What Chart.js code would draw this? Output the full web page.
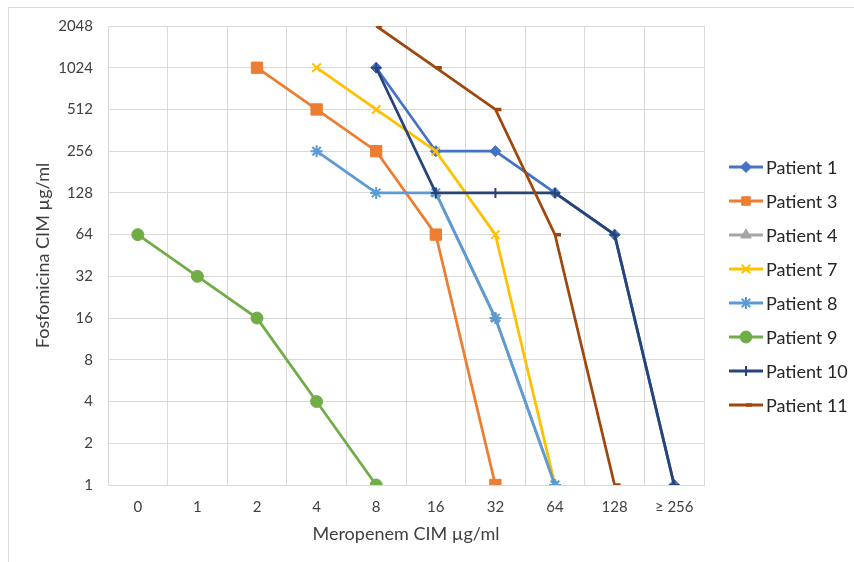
<!DOCTYPE html>
<html>
<head>
<meta charset="utf-8">
<script src="https://cdn.jsdelivr.net/npm/chart.js@4.4.0/dist/chart.umd.min.js"></script>
<style>
  html, body { margin: 0; padding: 0; background: #fff; }
  #wrap { position: relative; width: 854px; height: 562px; overflow: hidden; }
  #frame { position: absolute; left: 8px; top: 7px; width: 900px; height: 600px; border: 1px solid #D9D9D9; box-sizing: border-box; }
  canvas { position: absolute; left: 0; top: 0; }
</style>
</head>
<body>
<div id="wrap">
  <div id="frame"></div>
  <canvas id="c" width="854" height="562"></canvas>
</div>
<script>
// X categories (Meropenem CIM µg/ml)
const categories = ['0', '1', '2', '4', '8', '16', '32', '64', '128', '≥ 256'];
// Y tick labels (Fosfomicina CIM µg/ml)
const yTickValues = [1, 2, 4, 8, 16, 32, 64, 128, 256, 512, 1024, 2048];

// Series values (null = no point)
const patient1  = [null, null, null, null, 1024, 256, 256, 128, 64, 1];
const patient3  = [null, null, 1024, 512, 256, 64, 1, null, null, null];
const patient4  = [null, null, null, null, null, 128, 16, 1, null, null];
const patient7  = [null, null, null, 1024, 512, 256, 64, 1, null, null];
const patient8  = [null, null, null, 256, 128, 128, 16, 1, null, null];
const patient9  = [64, 32, 16, 4, 1, null, null, null, null, null];
const patient10 = [null, null, null, null, 1024, 128, 128, 128, 64, 1];
const patient11 = [null, null, null, null, 2048, 1024, 512, 64, 1, null];

const seriesNames = ['Patient 1', 'Patient 3', 'Patient 4', 'Patient 7', 'Patient 8', 'Patient 9', 'Patient 10', 'Patient 11'];
const seriesData = [patient1, patient3, patient4, patient7, patient8, patient9, patient10, patient11];
const seriesColors = ['#4472C4', '#ED7D31', '#A5A5A5', '#FFC000', '#5B9BD5', '#70AD47', '#264478', '#9E480E'];
const seriesStyles = ['rectRot', 'rect', 'triangle', 'crossRot', 'star', 'circle', 'cross', 'dash'];
const seriesRadius = [5.5, 8, 6, 6, 6, 6, 5, 6];
const seriesPtBorder = [1, 1, 1, 2, 2, 1, 2, 3.5];

const FONT = 'Lato, "Open Sans", sans-serif';
const TXT = '#404040';

const datasets = seriesNames.map((name, i) => ({
  label: name,
  data: seriesData[i],
  borderColor: seriesColors[i],
  backgroundColor: seriesColors[i],
  pointBackgroundColor: seriesColors[i],
  pointBorderColor: seriesColors[i],
  pointStyle: seriesStyles[i],
  pointRadius: seriesRadius[i],
  pointHoverRadius: seriesRadius[i],
  pointBorderWidth: seriesPtBorder[i],
  borderWidth: 2.75,
  tension: 0,
  spanGaps: false,
  order: seriesNames.length - i
}));

const excelLegend = {
  id: 'excelLegend',
  afterDraw(chart) {
    const ctx = chart.ctx;
    const x0 = chart.chartArea.right + 25;
    const lineLen = 34;
    const y0 = 167;
    const step = 34;
    chart.data.datasets.forEach((ds, i) => {
      const y = y0 + i * step;
      ctx.save();
      ctx.strokeStyle = ds.borderColor;
      ctx.lineWidth = 3;
      ctx.beginPath();
      ctx.moveTo(x0, y);
      ctx.lineTo(x0 + lineLen, y);
      ctx.stroke();
      ctx.fillStyle = ds.pointBackgroundColor;
      ctx.strokeStyle = ds.pointBorderColor;
      ctx.lineWidth = ds.pointBorderWidth;
      Chart.helpers.drawPoint(ctx, {
        pointStyle: ds.pointStyle,
        radius: Math.min(ds.pointRadius, 6),
        rotation: 0,
        borderWidth: ds.pointBorderWidth
      }, x0 + lineLen / 2, y);
      ctx.fillStyle = '#262626';
      ctx.font = '18px ' + FONT;
      ctx.textBaseline = 'middle';
      ctx.textAlign = 'left';
      ctx.fillText(ds.label, x0 + lineLen + 3, y + 1);
      ctx.restore();
    });
  }
};

new Chart(document.getElementById('c'), {
  type: 'line',
  data: { labels: categories, datasets: datasets },
  options: {
    responsive: false,
    animation: false,
    layout: { padding: { top: 26, right: 150, bottom: 0, left: 0 } },
    plugins: {
      legend: { display: false },
      tooltip: { enabled: false }
    },
    scales: {
      x: {
        type: 'category',
        offset: true,
        grid: { offset: true, color: '#D9D9D9', lineWidth: 1, drawTicks: false },
        border: { color: '#D9D9D9' },
        ticks: { color: TXT, font: { family: FONT, size: 15 }, padding: 13, maxRotation: 0, autoSkip: false },
        title: { display: true, text: 'Meropenem CIM µg/ml', color: TXT, font: { family: FONT, size: 18 }, padding: { top: 0, bottom: 17 } },
        afterFit(scale) { scale.height = 77; }
      },
      y: {
        type: 'logarithmic',
        min: 1,
        max: 2048,
        grid: { color: '#D9D9D9', lineWidth: 1, drawTicks: false },
        border: { color: '#D9D9D9' },
        ticks: {
          color: TXT, font: { family: FONT, size: 15 }, padding: 15,
          callback: (v) => String(v)
        },
        afterBuildTicks(scale) { scale.ticks = yTickValues.map(v => ({ value: v })); },
        title: { display: true, text: 'Fosfomicina CIM µg/ml', color: TXT, font: { family: FONT, size: 18 }, padding: { top: 32, bottom: 0 } },
        afterFit(scale) { scale.width = 108; }
      }
    }
  },
  plugins: [excelLegend]
});
</script>
</body>
</html>
